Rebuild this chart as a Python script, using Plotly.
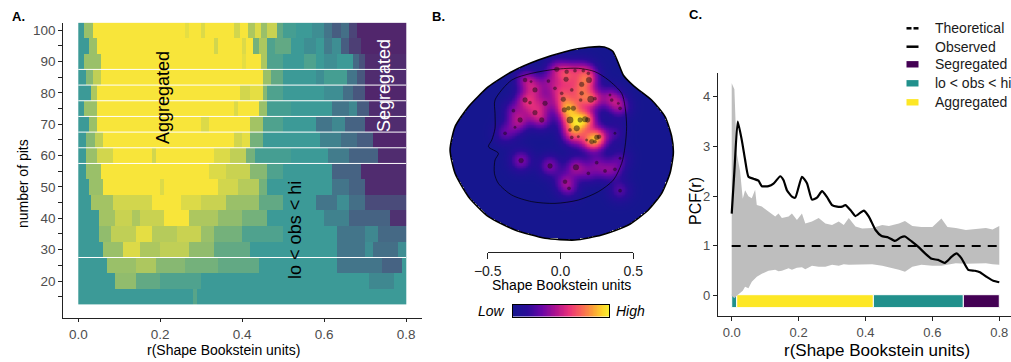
import numpy as np
import plotly.graph_objects as go

W, H = 1011, 362
FONT = "Liberation Sans, Arial, sans-serif"

# ---------------- Panel A data ----------------
pits = [15, 20, 25, 30, 35, 40, 45, 50, 55, 60, 65, 70, 75, 80, 85, 90, 95, 100]
# runs per row: (end of run in r units, class value: -1 segregated, 0 lo<obs<hi, 1 aggregated)
row_runs = {
    100: [(0.016, 0), (0.033, 0.5), (0.26, 1), (0.27, 0.9), (0.30, 1), (0.31, 0.85), (0.38, 1),
          (0.395, 0.8), (0.415, 1), (0.43, 0.6), (0.445, 0.85), (0.46, 0.5), (0.484, 0.75),
          (0.50, 0.2), (0.53, 0.05), (0.57, 0), (0.60, -0.1), (0.62, -0.3), (0.64, -0.5),
          (0.66, -0.35), (0.68, -0.7), (0.8, -0.95)],
    95: [(0.024, 0), (0.045, 0.5), (0.33, 1), (0.34, 0.8), (0.40, 1), (0.41, 0.85), (0.427, 1),
         (0.44, 0.3), (0.46, 0.6), (0.48, 0.1), (0.52, 0.2), (0.55, 0), (0.58, -0.1), (0.60, 0),
         (0.62, -0.25), (0.64, -0.1), (0.66, -0.5), (0.69, -0.75), (0.8, -0.95)],
    90: [(0.016, 0), (0.053, 0.5), (0.40, 1), (0.41, 0.9), (0.443, 1), (0.46, 0.6), (0.50, 0.1),
         (0.55, 0), (0.58, 0.1), (0.6, 0), (0.63, -0.1), (0.67, 0), (0.685, -0.4), (0.70, -0.6),
         (0.8, -0.9)],
    85: [(0.02, 0), (0.035, 0.4), (0.053, 0.7), (0.45, 1), (0.468, 0.5), (0.50, 0.2), (0.58, 0),
         (0.60, -0.1), (0.655, 0.05), (0.68, -0.3), (0.70, -0.55), (0.8, -0.9)],
    80: [(0.028, 0), (0.045, 0.6), (0.395, 1), (0.42, 0.8), (0.45, 0.9), (0.46, 0.4), (0.5, 0.1),
         (0.6, 0), (0.647, -0.1), (0.67, -0.35), (0.70, -0.55), (0.8, -0.95)],
    75: [(0.016, 0), (0.045, 0.5), (0.38, 1), (0.39, 0.85), (0.44, 1), (0.46, 0.5), (0.52, 0.05),
         (0.62, 0), (0.66, -0.3), (0.68, -0.15), (0.71, -0.5), (0.8, -0.9)],
    70: [(0.024, 0), (0.045, 0.5), (0.30, 1), (0.32, 0.85), (0.42, 1), (0.45, 0.55), (0.50, 0.1),
         (0.58, 0), (0.62, -0.3), (0.65, -0.15), (0.70, -0.45), (0.8, -0.9)],
    65: [(0.02, 0), (0.04, 0.4), (0.061, 0.7), (0.378, 1), (0.40, 0.8), (0.42, 0.9), (0.45, 0.3),
         (0.59, 0), (0.64, -0.2), (0.68, -0.35), (0.72, -0.5), (0.8, -0.95)],
    60: [(0.02, 0), (0.045, 0.5), (0.085, 0.8), (0.18, 1), (0.19, 0.8), (0.33, 1), (0.37, 0.85),
         (0.41, 0.7), (0.43, 0.3), (0.52, 0.05), (0.61, 0), (0.66, -0.25), (0.728, -0.45),
         (0.8, -0.9)],
    55: [(0.02, 0), (0.054, 0.5), (0.32, 1), (0.36, 0.85), (0.42, 0.75), (0.46, 0.4), (0.50, 0.1),
         (0.62, 0), (0.69, -0.45), (0.8, -0.9)],
    50: [(0.024, 0), (0.06, 0.5), (0.20, 1), (0.21, 0.85), (0.34, 1), (0.39, 0.8), (0.44, 0.65),
         (0.46, 0.3), (0.62, 0), (0.66, -0.3), (0.70, -0.45), (0.8, -0.9)],
    45: [(0.03, 0), (0.085, 0.55), (0.18, 0.8), (0.25, 1), (0.30, 0.85), (0.36, 0.75),
         (0.44, 0.5), (0.50, 0.2), (0.58, 0), (0.63, -0.3), (0.66, -0.1), (0.70, -0.35),
         (0.8, -0.65)],
    40: [(0.016, 0), (0.05, 0), (0.09, 0.55), (0.13, 0.75), (0.15, 0.6), (0.21, 0.75), (0.27, 1),
         (0.34, 0.6), (0.40, 0.45), (0.46, 0.3), (0.6, 0), (0.66, -0.2), (0.76, -0.45),
         (0.8, -0.85)],
    35: [(0.05, 0), (0.08, 0.45), (0.14, 0.7), (0.18, 0.9), (0.24, 0.65), (0.30, 0.75),
         (0.33, 0.5), (0.40, 0.3), (0.50, 0.1), (0.63, 0), (0.70, -0.3), (0.73, -0.15),
         (0.8, -0.4)],
    30: [(0.06, 0), (0.11, 0.5), (0.15, 0.85), (0.20, 0.6), (0.27, 0.7), (0.33, 0.45),
         (0.42, 0.2), (0.63, 0), (0.70, -0.3), (0.72, -0.1), (0.78, -0.35), (0.8, -0.1)],
    25: [(0.07, 0), (0.14, 0.5), (0.19, 0.6), (0.26, 0.4), (0.34, 0.3), (0.44, 0.2), (0.63, 0),
         (0.74, -0.3), (0.79, -0.45), (0.8, 0)],
    20: [(0.09, 0), (0.14, 0.45), (0.20, 0.2), (0.30, 0.1), (0.71, 0), (0.77, -0.15), (0.8, 0)],
    15: [(0.28, 0), (0.29, 0.15), (0.8, 0)],
}
gap_lines = [27.5, 57.5, 62.5, 67.5, 72.5, 77.5, 82.5, 87.5]
r_cell = 0.005
r_ticks = [0.0, 0.2, 0.4, 0.6, 0.8]
r_ticklabels = ["0.0", "0.2", "0.4", "0.6", "0.8"]
pit_ticks = [20, 30, 40, 50, 60, 70, 80, 90, 100]
pit_minor = [15, 25, 35, 45, 55, 65, 75, 85, 95]

# ---------------- Panel B data ----------------
blob_x = [-0.765, -0.731, -0.639, -0.502, -0.342, -0.160, 0.023, 0.183, 0.292, 0.350, 0.386,
          0.424, 0.495, 0.616, 0.708, 0.754, 0.765, 0.742, 0.685, 0.594, 0.457, 0.274, 0.091,
          -0.114, -0.320, -0.502, -0.639, -0.731]
blob_y = [0.000, 0.159, 0.296, 0.433, 0.536, 0.616, 0.673, 0.703, 0.705, 0.676, 0.600, 0.510,
          0.437, 0.342, 0.228, 0.091, -0.023, -0.160, -0.297, -0.411, -0.514, -0.583, -0.617,
          -0.605, -0.548, -0.457, -0.320, -0.160]
inner_x = [-0.457, -0.342, -0.205, -0.046, 0.114, 0.228, 0.320, 0.411, 0.434, 0.445, 0.434, 0.411,
           0.354, 0.251, 0.114, -0.046, -0.205, -0.342, -0.434, -0.461, -0.457, -0.434, -0.502,
           -0.479, -0.457, -0.457]
inner_y = [0.342, 0.479, 0.525, 0.552, 0.559, 0.536, 0.479, 0.388, 0.297, 0.159, 0.022, -0.092,
           -0.206, -0.286, -0.343, -0.366, -0.354, -0.309, -0.229, -0.160, -0.069, -0.023, 0.022,
           0.068, 0.147, 0.251]
pts_x = [-0.034, 0.034, 0.091, 0.148, 0.183, 0.030, 0.137, 0.187, -0.251, -0.210, -0.091, -0.046,
         -0.183, 0.000, 0.069, 0.137, 0.199, 0.228, 0.130, -0.251, -0.217, -0.114, -0.183, -0.137,
         -0.285, -0.331, -0.388, -0.320, 0.011, 0.018, 0.046, 0.080, 0.057, 0.126, 0.160, 0.178,
         0.103, 0.057, 0.069, 0.114, 0.331, 0.343, 0.388, 0.400, 0.171, 0.206, 0.240, 0.228, 0.256,
         0.365, -0.278, -0.080, 0.098, 0.183, 0.240, 0.297, 0.400, 0.365, 0.023, 0.050, 0.400]
pts_y = [0.552, 0.536, 0.543, 0.543, 0.525, 0.484, 0.449, 0.479, 0.479, 0.468, 0.472, 0.422,
         0.411, 0.388, 0.411, 0.388, 0.347, 0.351, 0.342, 0.342, 0.324, 0.319, 0.255, 0.205,
         0.205, 0.269, 0.114, 0.155, 0.347, 0.274, 0.285, 0.285, 0.205, 0.205, 0.210, 0.205,
         0.148, 0.137, 0.086, 0.091, 0.376, 0.342, 0.319, 0.285, 0.068, 0.057, 0.086, 0.057, 0.091,
         0.114, -0.073, -0.110, -0.119, -0.160, -0.087, -0.144, -0.057, -0.133, -0.217, -0.263,
         -0.279]
pts_size = [6, 5, 4, 4, 4, 6, 6, 7, 5, 3, 4, 4, 6, 4, 4, 5, 8, 4, 4, 6, 4, 6, 6, 6, 6, 4, 4, 3,
            6, 6, 5, 6, 8, 6, 7, 6, 7, 4, 4, 3, 3, 4, 3, 4, 3, 6, 6, 4, 5, 3, 6, 6, 7, 4, 4, 4, 3,
            4, 5, 4, 4]
b_ticks = [-0.5, 0.0, 0.5]
b_ticklabels = ["\u22120.5", "0.0", "0.5"]

# ---------------- Panel C data ----------------
r_obs = [0, 0.008, 0.018, 0.03, 0.04, 0.05, 0.065, 0.08, 0.09, 0.11, 0.125, 0.145, 0.155, 0.165,
         0.18, 0.19, 0.21, 0.225, 0.24, 0.255, 0.27, 0.285, 0.30, 0.315, 0.33, 0.34, 0.355, 0.37,
         0.385, 0.395, 0.41, 0.43, 0.448, 0.468, 0.488, 0.505, 0.518, 0.538, 0.558, 0.578, 0.598,
         0.617, 0.637, 0.657, 0.672, 0.687, 0.707, 0.727, 0.742, 0.762, 0.782, 0.8]
pcf_obs = [1.65, 2.5, 3.5, 3.13, 2.73, 2.39, 2.35, 2.31, 2.2, 2.2, 2.25, 2.4, 2.32, 2.12, 1.99, 1.97,
           2.39, 2.26, 1.93, 1.97, 2.1, 1.98, 1.82, 1.79, 1.79, 1.82, 1.72, 1.6, 1.67, 1.71, 1.59,
           1.32, 1.2, 1.17, 1.1, 1.17, 1.19, 1.09, 0.98, 0.85, 0.74, 0.72, 0.66, 0.78, 0.85, 0.75,
           0.52, 0.5, 0.47, 0.38, 0.3, 0.27]
r_env = [0, 0.008, 0.015, 0.025, 0.033, 0.04, 0.05, 0.06, 0.07, 0.075, 0.09, 0.11, 0.13, 0.14, 0.15,
         0.17, 0.18, 0.195, 0.21, 0.22, 0.24, 0.26, 0.28, 0.30, 0.32, 0.335, 0.35, 0.37, 0.39, 0.42,
         0.45, 0.47, 0.50, 0.518, 0.54, 0.567, 0.60, 0.627, 0.645, 0.67, 0.70, 0.73, 0.76, 0.78, 0.8]
env_hi = [4.27, 4.15, 2.86, 2.5, 1.95, 2.12, 2.0, 1.96, 2.13, 1.82, 1.79, 1.69, 1.59, 1.65, 1.56,
          1.59, 1.65, 1.52, 1.65, 1.45, 1.49, 1.56, 1.45, 1.42, 1.49, 1.42, 1.56, 1.39, 1.35, 1.36,
          1.42, 1.40, 1.45, 1.50, 1.40, 1.38, 1.38, 1.55, 1.38, 1.36, 1.32, 1.34, 1.36, 1.33, 1.40]
env_lo = [0.0, -0.05, 0.0, 0.05, 0.1, 0.18, 0.15, 0.28, 0.35, 0.38, 0.44, 0.5, 0.52, 0.49, 0.5,
          0.55, 0.52, 0.56, 0.57, 0.53, 0.6, 0.58, 0.58, 0.62, 0.6, 0.63, 0.62, 0.62, 0.62, 0.63,
          0.6, 0.57, 0.52, 0.48, 0.58, 0.62, 0.6, 0.6, 0.62, 0.65, 0.64, 0.65, 0.65, 0.63, 0.62]
pcf_theo = 1.0
cat_start = [0.0, 0.015, 0.4235, 0.6925]
cat_end = [0.015, 0.4235, 0.6925, 0.8]
cat_label = ["lo < obs < hi", "Aggregated", "lo < obs < hi", "Segregated"]
c_yticks = [0, 1, 2, 3, 4]
legend_labels = ["Theoretical", "Observed", "Segregated", "lo < obs < hi", "Aggregated"]

# ---------------- helpers ----------------
def px(x):
    return x / W


def py(y):
    return 1 - y / H


VIR = {"Segregated": "#440154", "lo < obs < hi": "#21908C", "Aggregated": "#FDE725"}
DENS_SCALE = [[0.0, "#16168f"], [0.15, "#2a0c98"], [0.30, "#6a06a6"], [0.45, "#b0128e"],
              [0.58, "#e8307a"], [0.70, "#f8605a"], [0.82, "#fb9a3a"], [0.92, "#fdd02a"],
              [1.0, "#f8f030"]]

fig = go.Figure()

# ----- Panel A heatmap -----
r_centers = np.arange(r_cell / 2, 0.8, r_cell)
zA = []
for p in pits:
    runs = row_runs[p]
    row = []
    for rc in r_centers:
        val = runs[-1][1]
        for end, v in runs:
            if rc <= end:
                val = v
                break
        row.append(val)
    zA.append(row)

fig.add_trace(go.Heatmap(
    x=r_centers, y=pits, z=zA, zmin=-1, zmax=1, showscale=False,
    colorscale=[[0, "#52206a"], [0.5, "#3c9a97"], [1, "#f8e53a"]],
    xaxis="x", yaxis="y", hoverinfo="skip"))

# ----- Panel B density -----
gx = np.arange(-0.80, 0.80 + 1e-9, 0.005)
gy = np.arange(-0.64, 0.74 + 1e-9, 0.005)
GX, GY = np.meshgrid(gx, gy)
sig = 0.049
dens = np.zeros_like(GX)
for x0, y0, s0 in zip(pts_x, pts_y, pts_size):
    w = s0 / 5.0
    dens += w * np.exp(-((GX - x0) ** 2 + (GY - y0) ** 2) / (2 * sig ** 2))
zB = (dens / dens.max()) ** 0.8

bx = np.array(blob_x)
by = np.array(blob_y)
inside = np.zeros_like(GX, dtype=bool)
n = len(bx)
for i in range(n):
    x1, y1 = bx[i], by[i]
    x2, y2 = bx[(i + 1) % n], by[(i + 1) % n]
    cond = ((y1 > GY) != (y2 > GY))
    xint = (x2 - x1) * (GY - y1) / (y2 - y1 + 1e-12) + x1
    inside ^= cond & (GX < xint)
zB = np.where(inside, zB, np.nan)

fig.add_trace(go.Heatmap(
    x=gx, y=gy, z=zB, zmin=0, zmax=1, colorscale=DENS_SCALE, showscale=False,
    xaxis="x3", yaxis="y3", hoverinfo="skip"))

# colour key for panel B (gradient strip)
cb_vals = np.linspace(0, 1, 120)
fig.add_trace(go.Heatmap(
    x=cb_vals, y=[0], z=[cb_vals], zmin=0, zmax=1, colorscale=DENS_SCALE, showscale=False,
    xaxis="x5", yaxis="y5", hoverinfo="skip"))

fig.add_trace(go.Scatter(
    x=inner_x + inner_x[:1], y=inner_y + inner_y[:1], mode="lines",
    line=dict(color="rgba(0,0,0,0.85)", width=0.8, shape="spline", smoothing=0.8),
    xaxis="x3", yaxis="y3", showlegend=False, hoverinfo="skip"))
fig.add_trace(go.Scatter(
    x=pts_x, y=pts_y, mode="markers",
    marker=dict(size=[s * 0.8 for s in pts_size], color="rgba(20,15,15,0.68)",
                line=dict(color="rgba(0,0,0,0.5)", width=0.4)),
    xaxis="x3", yaxis="y3", showlegend=False, hoverinfo="skip"))
fig.add_trace(go.Scatter(
    x=blob_x + blob_x[:1], y=blob_y + blob_y[:1], mode="lines",
    line=dict(color="black", width=1.6, shape="spline", smoothing=0.6),
    xaxis="x3", yaxis="y3", showlegend=False, hoverinfo="skip"))
fig.add_trace(go.Scatter(x=b_ticks, y=[0, 0, 0], mode="markers", marker=dict(opacity=0),
                         xaxis="x4", yaxis="y4", showlegend=False, hoverinfo="skip"))

# ----- Panel C -----
fig.add_trace(go.Scatter(x=r_env, y=env_lo, mode="lines", line=dict(width=0, color="#bebebe"),
                         xaxis="x2", yaxis="y2", showlegend=False, hoverinfo="skip"))
fig.add_trace(go.Scatter(x=r_env, y=env_hi, mode="lines", line=dict(width=0, color="#bebebe"),
                         fill="tonexty", fillcolor="#bebebe",
                         xaxis="x2", yaxis="y2", showlegend=False, hoverinfo="skip"))
fig.add_trace(go.Scatter(x=[0, 0.8], y=[pcf_theo, pcf_theo], mode="lines", name="Theoretical",
                         line=dict(color="black", width=2, dash="9px,7px"),
                         xaxis="x2", yaxis="y2", showlegend=False))
fig.add_trace(go.Scatter(x=r_obs, y=pcf_obs, mode="lines", name="Observed",
                         line=dict(color="black", width=2.2, shape="spline", smoothing=0.5),
                         xaxis="x2", yaxis="y2", showlegend=False))
for s, e, lab in zip(cat_start, cat_end, cat_label):
    fig.add_trace(go.Bar(
        x=[e - s], base=[s], y=[-0.11], orientation="h", width=0.26, name=lab,
        marker=dict(color=VIR[lab], line=dict(color="white", width=1)),
        xaxis="x2", yaxis="y2", showlegend=False, hoverinfo="skip"))

# ----- shapes -----
shapes = []
for g in gap_lines:
    shapes.append(dict(type="line", xref="x", yref="y", x0=0, x1=0.8, y0=g, y1=g,
                       line=dict(color="white", width=1)))

# manual legend for panel C
leg_rows = [28.3, 46.7, 64.3, 83.3, 102.3]
lx0, lx1 = 906.5, 918.5
shapes.append(dict(type="line", xref="paper", yref="paper", x0=px(lx0), x1=px(lx0 + 5),
                   y0=py(leg_rows[0]), y1=py(leg_rows[0]), line=dict(color="black", width=2.5)))
shapes.append(dict(type="line", xref="paper", yref="paper", x0=px(lx1 - 5), x1=px(lx1),
                   y0=py(leg_rows[0]), y1=py(leg_rows[0]), line=dict(color="black", width=2.5)))
shapes.append(dict(type="line", xref="paper", yref="paper", x0=px(lx0), x1=px(lx1),
                   y0=py(leg_rows[1]), y1=py(leg_rows[1]), line=dict(color="black", width=2.5)))
for lab, yy in zip(legend_labels[2:], leg_rows[2:]):
    shapes.append(dict(type="rect", xref="paper", yref="paper", x0=px(lx0), x1=px(lx1),
                       y0=py(yy + 3.2), y1=py(yy - 3.2), fillcolor=VIR[lab], line=dict(width=0)))

axis_common = dict(showline=True, linecolor="#222", linewidth=1.1, ticks="outside",
                   tickcolor="#222", showgrid=False, zeroline=False)

annotations = []


def ann(text, x, y, size, color="black", angle=0, ref="paper", xanchor="center"):
    d = dict(text=text, showarrow=False, font=dict(family=FONT, size=size, color=color),
             xanchor=xanchor, yanchor="middle", textangle=angle)
    if ref == "paper":
        d.update(xref="paper", yref="paper", x=px(x), y=py(y))
    else:
        d.update(xref=ref[0], yref=ref[1], x=x, y=y)
    annotations.append(d)


ann("<b>A.</b>", 18, 16, 13)
ann("<b>B.</b>", 438, 16, 13)
ann("<b>C.</b>", 695, 15, 13)
ann("number of pits", 23, 184, 14, angle=-90)
ann("r(Shape Bookstein units)", 223, 350, 14)
ann("Shape Bookstein units", 561.7, 284.5, 14)
ann("<i>Low</i>", 491, 311, 14)
ann("<i>High</i>", 630, 311, 14)
ann("r(Shape Bookstein units)", 876.7, 350, 17)
ann("PCF(r)", 695, 201, 16, angle=-90)
ann("Aggregated", 0.207, 78.4, 18, angle=-90, ref=("x", "y"))
ann("Segregated", 0.746, 82.5, 18, color="white", angle=-90, ref=("x", "y"))
ann("lo < obs < hi", 0.529, 36.3, 18, angle=-90, ref=("x", "y"))
for lab, yy in zip(legend_labels, leg_rows):
    ann(lab, 933, yy, 14, color="#1a1a1a", xanchor="left")

fig.update_layout(
    width=W, height=H, margin=dict(l=0, r=0, t=0, b=0, autoexpand=False),
    paper_bgcolor="white", plot_bgcolor="rgba(0,0,0,0)",
    font=dict(family=FONT, color="black"),
    barmode="overlay", showlegend=False,
    xaxis=dict(domain=[px(63.3), px(422)], range=[-0.0366, 0.839], anchor="y",
               tickvals=r_ticks, ticktext=r_ticklabels, ticklen=3,
               tickfont=dict(size=13.5, color="#4d4d4d"), **axis_common),
    yaxis=dict(domain=[py(318.3), py(22.7)], range=[8.1, 102.4], anchor="x",
               tickvals=pit_ticks, ticklen=4, tickfont=dict(size=13.5, color="#4d4d4d"),
               minor=dict(tickmode="array", tickvals=pit_minor, ticks="outside", ticklen=4,
                          tickcolor="#222"),
               **axis_common),
    xaxis2=dict(domain=[px(718), 1.0], range=[-0.041, 0.835], anchor="y2",
                tickvals=r_ticks, ticktext=r_ticklabels, ticklen=4,
                tickfont=dict(size=13, color="#4d4d4d"), **axis_common),
    yaxis2=dict(domain=[py(316), py(72.7)], range=[-0.408, 4.48], anchor="x2",
                tickvals=c_yticks, ticklen=4, tickfont=dict(size=13, color="#4d4d4d"),
                **axis_common),
    xaxis3=dict(domain=[px(440), px(685)], range=[-0.834, 0.845], anchor="y3", visible=False),
    yaxis3=dict(domain=[py(245), py(40)], range=[-0.651, 0.753], anchor="x3", visible=False),
    xaxis4=dict(domain=[px(487.7), px(633.3)], range=[-0.5, 0.5], anchor="y4",
                tickvals=b_ticks, ticktext=b_ticklabels, ticklen=6,
                tickfont=dict(size=14, color="#222"), **axis_common),
    yaxis4=dict(domain=[py(252), py(251)], range=[-1, 1], anchor="x4", visible=False),
    xaxis5=dict(domain=[px(513), px(609)], range=[0, 1], anchor="y5", showline=True,
                mirror=True, linecolor="black", linewidth=1, ticks="", showticklabels=False,
                showgrid=False, zeroline=False),
    yaxis5=dict(domain=[py(316.5), py(305)], range=[-0.5, 0.5], anchor="x5", showline=True,
                mirror=True, linecolor="black", linewidth=1, ticks="", showticklabels=False,
                showgrid=False, zeroline=False),
    shapes=shapes,
    annotations=annotations,
)

fig.write_html("out.html", config={"displayModeBar": False},
               post_script="document.body.style.margin='0px';")
